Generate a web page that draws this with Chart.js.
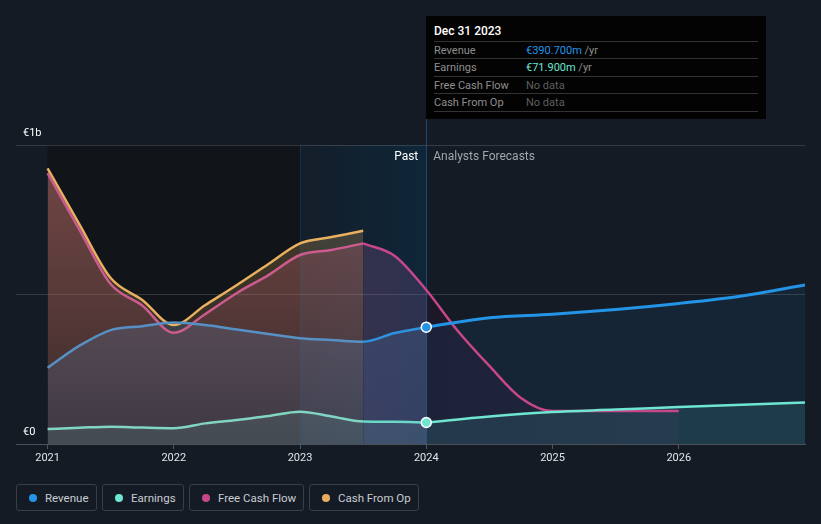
<!DOCTYPE html>
<html>
<head>
<meta charset="utf-8">
<script src="https://cdn.jsdelivr.net/npm/chart.js@4.4.1/dist/chart.umd.min.js"></script>
<style>
  html, body { margin: 0; padding: 0; width: 821px; height: 524px; overflow: hidden; background: #151b25; font-family: Roboto, "Noto Sans", sans-serif; }
  #wrap { position: absolute; left: 0; top: 0; width: 821px; height: 470px; }
  .tip { position: absolute; left: 426px; top: 16px; width: 340px; height: 103px; background: #030303; font-size: 11px; }
  .tip .title { position: absolute; left: 8px; top: 8px; color: #fff; font-size: 12px; font-weight: 500; line-height: 14px; }
  .tip .row { position: absolute; left: 8px; width: 324px; height: 17px; line-height: 17px; border-top: 1px solid #333; color: #8e8e8e; }
  .tip .row span { position: absolute; left: 92px; }
  .legend { position: absolute; left: 16px; top: 484px; display: flex; gap: 5px; }
  .legend div { box-sizing: border-box; height: 27px; border: 1px solid #393e48; border-radius: 3px; padding: 0 0 0 12px; display: flex; align-items: center; color: #c9ccd2; font-size: 11.5px; white-space: nowrap; }
  .legend i { flex: 0 0 8px; width: 8px; height: 8px; border-radius: 50%; margin-right: 8px; }
</style>
</head>
<body>
<div id="wrap"><canvas id="myChart"></canvas></div>

<div class="tip">
  <div class="title">Dec 31 2023</div>
  <div class="row" style="top:25px">Revenue<span><b style="color:#2394e6;font-weight:400">€390.700m</b> /yr</span></div>
  <div class="row" style="top:42px">Earnings<span><b style="color:#6ee6d2;font-weight:400">€71.900m</b> /yr</span></div>
  <div class="row" style="top:60px">Free Cash Flow<span style="color:#5f5f5f">No data</span></div>
  <div class="row" style="top:77px">Cash From Op<span style="color:#5f5f5f">No data</span></div>
  <div class="row" style="top:95px;height:0"></div>
</div>

<div class="legend">
  <div style="width:81px"><i style="background:#2394e6"></i>Revenue</div>
  <div style="width:82px"><i style="background:#6ee6d2"></i>Earnings</div>
  <div style="width:115px"><i style="background:#c6468a"></i>Free Cash Flow</div>
  <div style="width:110px"><i style="background:#e8ac5e"></i>Cash From Op</div>
</div>

<script>
// values in € millions, x in years
const pastX = [2021, 2021.25, 2021.5, 2021.75, 2022, 2022.25, 2022.5, 2022.75, 2023, 2023.25, 2023.5, 2023.75, 2024];
const revenuePast = [255, 328, 381, 394, 406, 398, 383, 368, 354, 348, 342, 371, 390.7];
const earningsPast = [50, 54, 58, 55, 53, 69, 80, 94, 108, 92, 75, 74, 71.9];

const cashX = [2021, 2021.25, 2021.5, 2021.75, 2022, 2022.25, 2022.5, 2022.75, 2023, 2023.25, 2023.5];
const fcfPast = [906, 719, 535, 463, 372, 435, 505, 565, 632, 649, 671];
const cfoPast = [922, 736, 555, 482, 398, 465, 532, 602, 671, 692, 713];

const forecastX = [2024, 2024.5, 2025, 2025.5, 2026, 2026.5, 2027];
const revenueForecast = [390.7, 422, 434, 450, 470, 495, 532];
const earningsForecast = [71.9, 92, 107, 115, 124, 131, 139];

const fcfForecastX = [2023.5, 2023.75, 2024, 2024.25, 2024.5, 2024.75, 2025, 2025.5, 2026];
const fcfForecast = [671, 629, 515, 378, 261, 154, 110, 110, 110];

const yearTicks = [2021, 2022, 2023, 2024, 2025, 2026];
const yTicks = [0, 500, 1000];
const yLabels = ["€0", "", "€1b"];

const pastEnd = 2023;
const nowX = 2024;
const cashEnd = 2023.5;


function toPoints(xs, ys) {
  return xs.map((x, i) => ({ x: x, y: ys[i] }));
}


function vGrad(top, bottom) {
  return function (c) {
    const area = c.chart.chartArea;
    if (!area) return top;
    const g = c.chart.ctx.createLinearGradient(0, area.top, 0, area.bottom);
    g.addColorStop(0, top);
    g.addColorStop(1, bottom);
    return g;
  };
}


function fcfForecastFill(c) {
  const chart = c.chart;
  const area = chart.chartArea;
  if (!area) return "rgba(60,20,60,0.3)";
  const x = chart.scales.x;
  const w = area.right - area.left;
  const f = (v) => Math.min(1, Math.max(0, (x.getPixelForValue(v) - area.left) / w));
  const g = chart.ctx.createLinearGradient(area.left, 0, area.right, 0);
  g.addColorStop(f(cashEnd), "rgba(175,105,175,0.22)");
  g.addColorStop(f(nowX), "rgba(160,95,165,0.2)");
  g.addColorStop(Math.min(1, f(nowX) + 0.001), "rgba(55,15,50,0.26)");
  g.addColorStop(f(2026), "rgba(70,30,70,0.22)");
  return g;
}


const backgroundPlugin = {
  id: "bands",
  beforeDraw(chart) {
    const { ctx, chartArea: a, scales } = chart;
    const x21 = scales.x.getPixelForValue(2021);
    const x23 = scales.x.getPixelForValue(pastEnd);
    const x24 = scales.x.getPixelForValue(nowX);
    ctx.save();
    ctx.fillStyle = "#111419";
    ctx.fillRect(x21, a.top, x23 - x21, a.bottom - a.top);
    const g = ctx.createLinearGradient(x23, 0, x24, 0);
    g.addColorStop(0, "#131e29");
    g.addColorStop(1, "#0f2639");
    ctx.fillStyle = g;
    ctx.fillRect(x23, a.top, x24 - x23, a.bottom - a.top);
    ctx.restore();
  },
  beforeDatasetsDraw(chart) {
    const { ctx, chartArea: a, scales } = chart;
    const x24 = Math.round(scales.x.getPixelForValue(nowX)) + 0.5;
    const x23 = Math.round(scales.x.getPixelForValue(pastEnd)) + 0.5;
    ctx.save();
    ctx.lineWidth = 1;
    ctx.strokeStyle = "rgba(40,110,170,0.55)";
    ctx.beginPath();
    ctx.moveTo(x24, 119);
    ctx.lineTo(x24, a.bottom);
    ctx.stroke();
    ctx.strokeStyle = "rgba(40,90,130,0.35)";
    ctx.beginPath();
    ctx.moveTo(x23, a.top);
    ctx.lineTo(x23, a.bottom);
    ctx.stroke();
    ctx.restore();
  },
  afterDatasetsDraw(chart) {
    const { ctx, chartArea: a, scales } = chart;
    const x24 = scales.x.getPixelForValue(nowX);
    ctx.save();
    ctx.font = "12px Roboto";
    ctx.textBaseline = "middle";
    ctx.textAlign = "right";
    ctx.fillStyle = "#ffffff";
    ctx.fillText("Past", x24 - 8, a.top + 12);
    ctx.textAlign = "left";
    ctx.fillStyle = "#a2a6ad";
    ctx.fillText("Analysts Forecasts", x24 + 7, a.top + 12);
    ctx.restore();
  },
};


function lineSet(label, data, color, fill, order, extra) {
  return Object.assign({
    label: label,
    data: data,
    borderColor: color,
    borderWidth: 2.5,
    backgroundColor: fill,
    fill: "origin",
    pointRadius: 0,
    cubicInterpolationMode: "monotone",
    order: order,
  }, extra || {});
}


const nowDot = (c) => (c.dataIndex === 0 ? 5 : 0);

const datasets = [
  lineSet("Revenue", toPoints(forecastX, revenueForecast), "#2394e6", "rgba(35,148,230,0.09)", 1, {
    borderWidth: 3, pointRadius: nowDot, pointBackgroundColor: "#2394e6", pointBorderColor: "#ffffff", pointBorderWidth: 1.5,
  }),
  lineSet("Revenue past", toPoints(pastX, revenuePast), "#5790c4", vGrad("rgba(95,150,215,0.24)", "rgba(95,150,215,0.14)"), 2, {
    segment: { borderColor: (s) => (s.p0.parsed.x >= cashEnd ? "#2d93df" : undefined) },
  }),
  lineSet("Earnings", toPoints(forecastX, earningsForecast), "#6ee6d2", "rgba(94,227,207,0.12)", 3, {
    pointRadius: nowDot, pointBackgroundColor: "#6ee6d2", pointBorderColor: "#ffffff", pointBorderWidth: 1.5,
  }),
  lineSet("Earnings past", toPoints(pastX, earningsPast), "#80d5c3", "rgba(120,215,195,0.12)", 4, {
    segment: { borderColor: (s) => (s.p0.parsed.x >= cashEnd ? "#6ad9c9" : undefined) },
  }),
  lineSet("Free Cash Flow", toPoints(fcfForecastX, fcfForecast), "#c8468a", fcfForecastFill, 5),
  lineSet("Free Cash Flow past", toPoints(cashX, fcfPast), "#cc5c8f", vGrad("rgba(205,90,130,0.3)", "rgba(205,90,130,0.1)"), 6),
  lineSet("Cash From Op", toPoints(cashX, cfoPast), "#e8b15f", vGrad("rgba(232,177,95,0.28)", "rgba(232,177,95,0.1)"), 7),
];


const ctx = document.getElementById("myChart");
new Chart(ctx, {
  type: "line",
  data: { datasets: datasets },
  options: {
    responsive: true,
    maintainAspectRatio: false,
    animation: false,
    events: [],
    layout: { padding: { left: 16, right: 16, top: 145, bottom: 0 } },
    plugins: {
      legend: { display: false },
      tooltip: { enabled: false },
      filler: { drawTime: "beforeDatasetsDraw" },
    },
    scales: {
      x: {
        type: "linear",
        min: 2020.75,
        max: 2027,
        afterBuildTicks: (s) => { s.ticks = yearTicks.map((v) => ({ value: v })); },
        afterFit: (s) => { s.height = 26; },
        grid: { drawOnChartArea: false, drawTicks: true, tickLength: 5, color: "#50555e" },
        border: { display: true, color: "#4b5059" },
        ticks: {
          color: "#e2e4e8",
          font: { family: "Roboto", size: 11 },
          padding: 3,
          maxRotation: 0,
          callback: (v) => String(v),
        },
      },
      y: {
        min: 0,
        max: 1000,
        afterBuildTicks: (s) => { s.ticks = yTicks.map((v) => ({ value: v })); },
        afterFit: (s) => { s.width = 0; },
        grid: { drawTicks: false, color: "rgba(255,255,255,0.14)" },
        border: { display: false },
        ticks: {
          mirror: true,
          padding: 7,
          labelOffset: -12,
          color: "#ffffff",
          font: { family: "Roboto", size: 11 },
          callback: (v, i) => yLabels[i],
        },
      },
    },
  },
  plugins: [backgroundPlugin],
});
</script>
</body>
</html>
